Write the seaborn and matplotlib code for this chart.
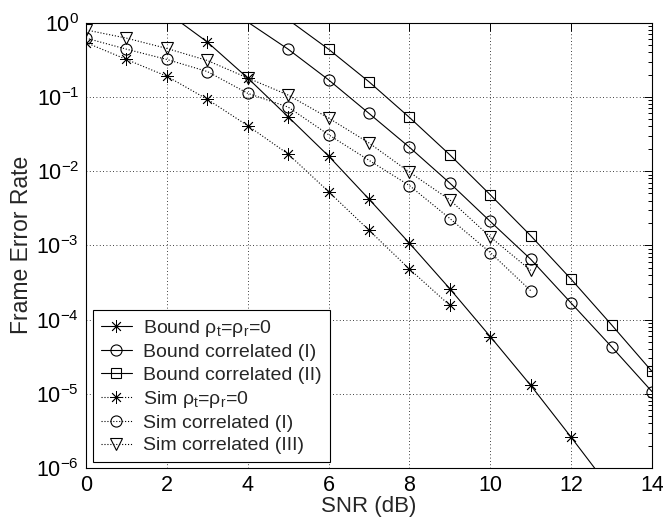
import numpy as np
import matplotlib
matplotlib.use("Agg")
import matplotlib.pyplot as plt
from matplotlib.ticker import FixedLocator, FuncFormatter, LogLocator, NullFormatter
import seaborn as sns

# SNR (dB) grid and frame error rates for each curve
snr_bound0 = [2, 3, 4, 5, 6, 7, 8, 9, 10, 11, 12, 13]
fer_bound0 = [1.38, 0.55, 0.18, 0.054, 0.016, 0.0042, 0.00107, 2.6e-4, 5.9e-5, 1.3e-5, 2.6e-6, 5.0e-7]

snr_bound1 = [4, 5, 6, 7, 8, 9, 10, 11, 12, 13, 14]
fer_bound1 = [1.02, 0.44, 0.17, 0.06, 0.021, 0.0069, 0.0021, 6.5e-4, 1.67e-4, 4.3e-5, 1.07e-5]

snr_bound2 = [5, 6, 7, 8, 9, 10, 11, 12, 13, 14]
fer_bound2 = [1.1, 0.44, 0.16, 0.053, 0.0166, 0.0048, 0.00135, 3.5e-4, 8.5e-5, 2.0e-5]

snr_sim0 = [0, 1, 2, 3, 4, 5, 6, 7, 8, 9]
fer_sim0 = [0.54, 0.32, 0.19, 0.093, 0.041, 0.017, 0.0053, 0.0016, 4.8e-4, 1.55e-4]

snr_sim1 = [0, 1, 2, 3, 4, 5, 6, 7, 8, 9, 10, 11]
fer_sim1 = [0.62, 0.44, 0.32, 0.22, 0.112, 0.073, 0.031, 0.014, 0.0064, 0.0023, 8.0e-4, 2.45e-4]

snr_sim3 = [0, 1, 2, 3, 4, 5, 6, 7, 8, 9, 10, 11]
fer_sim3 = [0.80, 0.62, 0.45, 0.31, 0.18, 0.106, 0.052, 0.024, 0.0097, 0.0041, 0.0013, 4.6e-4]

labels = [
    "Bound ρ$_\\mathrm{t}$=ρ$_\\mathrm{r}$=0",
    "Bound correlated (I)",
    "Bound correlated (II)",
    "Sim ρ$_\\mathrm{t}$=ρ$_\\mathrm{r}$=0",
    "Sim correlated (I)",
    "Sim correlated (III)",
]
x_ticks = [0, 2, 4, 6, 8, 10, 12, 14]
y_exponents = [-6, -5, -4, -3, -2, -1, 0]

sns.set_style("white")
plt.rcParams["font.family"] = ["Liberation Sans", "DejaVu Sans"]
plt.rcParams["mathtext.fontset"] = "custom"
plt.rcParams["mathtext.rm"] = "Liberation Sans"
plt.rcParams["mathtext.it"] = "Liberation Sans:italic"
plt.rcParams["mathtext.bf"] = "Liberation Sans:bold"

fig = plt.figure(figsize=(6.63, 5.21), dpi=100)
ax = fig.add_axes([0.1297, 0.1017, 0.8537, 0.8547])

YMIN, YMAX = 1e-6, 1.0
asterisk = (8, 2, 0)

# (x, y, linestyle, marker, markersize, marker edge width)
series = [
    (snr_bound0, fer_bound0, "-", asterisk, 9, 0.6),
    (snr_bound1, fer_bound1, "-", "o", 8, 0.8),
    (snr_bound2, fer_bound2, "-", "s", 7, 0.8),
    (snr_sim0, fer_sim0, ":", asterisk, 9, 0.6),
    (snr_sim1, fer_sim1, ":", "o", 8, 0.8),
    (snr_sim3, fer_sim3, ":", "v", 8.5, 0.8),
]

for (xs, ys, ls, mk, ms, mew), lab in zip(series, labels):
    shown = [i for i, v in enumerate(ys) if YMIN <= v <= YMAX]
    sns.lineplot(
        x=xs, y=ys, ax=ax, color="black", linestyle=ls, linewidth=0.8,
        marker=mk, markersize=ms, markerfacecolor="none",
        markeredgecolor="black", markeredgewidth=mew,
        markevery=shown, label=lab, sort=False, estimator=None,
    )

ax.set_yscale("log")
ax.set_xlim(0, 14)
ax.set_ylim(YMIN, YMAX)

ax.xaxis.set_major_locator(FixedLocator(x_ticks))
ax.yaxis.set_major_locator(FixedLocator([10.0 ** e for e in y_exponents]))
ax.yaxis.set_major_formatter(
    FuncFormatter(lambda v, pos: r"$10^{%d}$" % int(round(np.log10(v))))
)
ax.yaxis.set_minor_locator(LogLocator(base=10, subs=np.arange(2, 10), numticks=20))
ax.yaxis.set_minor_formatter(NullFormatter())

ax.grid(True, which="major", color="black", linestyle=(0, (1, 3)), linewidth=0.6)
ax.tick_params(which="both", direction="in", top=True, right=True,
               colors="black", labelsize=15.5, width=0.7)
ax.tick_params(which="major", length=6, pad=5)
ax.tick_params(which="minor", length=3)
for sp in ax.spines.values():
    sp.set_color("black")
    sp.set_linewidth(0.8)

ax.set_xlabel("SNR (dB)", fontsize=16, labelpad=0)
ax.set_ylabel("Frame Error Rate", fontsize=16.5, labelpad=2)

leg = ax.legend(
    loc="lower left", bbox_to_anchor=(0.012, 0.013), borderaxespad=0,
    fontsize=14, frameon=True, fancybox=False, edgecolor="black",
    framealpha=1, handlelength=1.6, handletextpad=0.6, labelspacing=0.25,
    borderpad=0.4,
)
leg.get_frame().set_linewidth(0.8)

fig.savefig("out.png", dpi=100, facecolor="white")
